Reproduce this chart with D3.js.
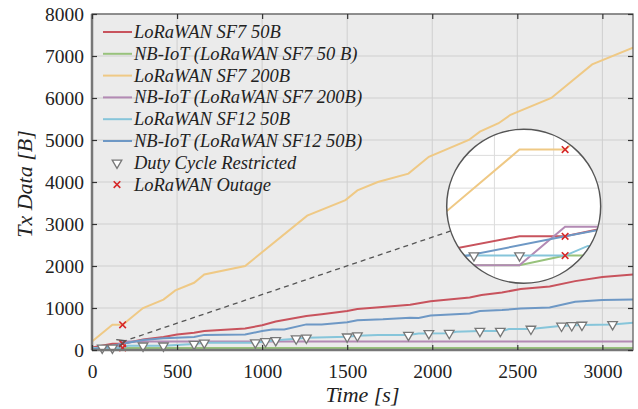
<html>
<head>
<script src="https://cdnjs.cloudflare.com/ajax/libs/d3/7.8.5/d3.min.js"></script>
<style>
  body { margin: 0; background: #fff; }
  text { font-family: "Liberation Serif", "Times New Roman", serif; fill: #222; }
</style>
</head>
<body>
<svg id="chart" width="638" height="409"></svg>
<script>
// series values: [time s, tx data B]
var sf7_50 = [[0,60],[120,150],[180,150],[300,250],[420,310],[500,370],[600,410],[660,450],[900,510],[1000,590],[1080,680],[1260,810],[1350,850],[1500,930],[1560,975],[1690,1020],[1870,1080],[1990,1160],[2220,1250],[2290,1310],[2410,1370],[2520,1450],[2690,1510],[2840,1640],[3000,1740],[3180,1800]];
var nb_sf7_50 = [[0,0],[120,0],[180,50],[3180,50]];
var sf7_200 = [[0,200],[120,600],[180,600],[300,1000],[420,1200],[490,1420],[600,1600],[660,1800],[900,2000],[1265,3200],[1490,3570],[1560,3800],[1680,4000],[1860,4200],[1980,4600],[2215,5000],[2280,5200],[2390,5400],[2460,5600],[2700,6000],[2940,6800],[3180,7200]];
var nb_sf7_200 = [[0,0],[120,0],[180,200],[3180,200]];
var sf12_50 = [[0,50],[180,50],[210,100],[420,100],[600,140],[660,170],[960,175],[1080,230],[1200,270],[1260,290],[1500,315],[1560,340],[1680,355],[1860,355],[1920,395],[2100,400],[2140,435],[2280,450],[2410,450],[2450,500],[2580,500],[2750,570],[2880,595],[3060,610],[3180,650]];
var nb_sf12_50 = [[0,10],[180,150],[300,240],[420,280],[600,310],[660,360],[900,370],[1000,450],[1060,490],[1130,490],[1260,610],[1350,610],[1500,660],[1560,710],[1710,730],[1870,770],[1920,760],[1990,820],[2220,870],[2280,930],[2410,950],[2520,990],[2690,1010],[2840,1150],[3000,1190],[3180,1200]];

var dutyTimes = [60,120,300,420,600,660,960,1020,1080,1200,1260,1500,1560,1860,1980,2100,2280,2400,2580,2760,2820,2880,3060];
var outages = [[180,600],[180,150],[180,50]];

var seriesNames = ['LoRaWAN SF7 50B','NB-IoT (LoRaWAN SF7 50 B)','LoRaWAN SF7 200B','NB-IoT (LoRaWAN SF7 200B)','LoRaWAN SF12 50B','NB-IoT (LoRaWAN SF12 50B)'];
var seriesColors = ['#c8535d','#98c27c','#efc985','#b38ab4','#86c5da','#6e98c5'];
var seriesData = [sf7_50, nb_sf7_50, sf7_200, nb_sf7_200, sf12_50, nb_sf12_50];

var xTicks = [0,500,1000,1500,2000,2500,3000];
var yTicks = [0,1000,2000,3000,4000,5000,6000,7000,8000];
var insetXTicks = [87,165];
var insetYTicks = [0,210,400,570];
var zoomPoint = [195,220];

var svg = d3.select('#chart');
var pl = 92, pr = 633, pt = 14, pb = 350;

var x = d3.scaleLinear().domain([0,3180]).range([pl,pr]);
var y = d3.scaleLinear().domain([0,8000]).range([pb,pt]);

svg.append('rect').attr('x',pl).attr('y',pt).attr('width',pr-pl).attr('height',pb-pt).attr('fill','#ebebeb');

// grid
svg.append('g').selectAll('line').data(xTicks).enter().append('line')
  .attr('x1',d=>x(d)).attr('x2',d=>x(d)).attr('y1',pt).attr('y2',pb)
  .attr('stroke','#cfcfcf').attr('stroke-width',1);
svg.append('g').selectAll('line').data(yTicks).enter().append('line')
  .attr('x1',pl).attr('x2',pr).attr('y1',d=>y(d)).attr('y2',d=>y(d))
  .attr('stroke','#cfcfcf').attr('stroke-width',1);

function drawSeries(g, xs, ys) {
  var line = d3.line().x(d=>xs(d[0])).y(d=>ys(d[1]));
  g.selectAll('path.s').data(seriesData).enter().append('path')
    .attr('class','s')
    .attr('d',line).attr('fill','none')
    .attr('stroke',(d,i)=>seriesColors[i]).attr('stroke-width',2);
}
function valueAt(data, t) {
  for (var i = 1; i < data.length; i++) {
    if (t <= data[i][0]) {
      var a = data[i-1], b = data[i];
      return a[1] + (b[1]-a[1])*(t-a[0])/(b[0]-a[0]);
    }
  }
  return data[data.length-1][1];
}
var tri = d3.symbol().type(d3.symbolTriangle).size(40);
var cross = d3.symbol().type(d3.symbolTimes).size(30);
function drawMarkers(g, xs, ys) {
  g.selectAll('path.t').data(dutyTimes).enter().append('path').attr('class','t')
    .attr('d',tri)
    .attr('transform',d=>'translate('+xs(d)+','+ys(valueAt(sf12_50,d))+') rotate(180)')
    .attr('fill','#fff').attr('stroke','#777').attr('stroke-width',1.3);
  g.selectAll('path.o').data(outages).enter().append('path').attr('class','o')
    .attr('d',cross)
    .attr('transform',d=>'translate('+xs(d[0])+','+ys(d[1])+')')
    .attr('fill','none').attr('stroke','#d62728').attr('stroke-width',1.6);
}

var plot = svg.append('g');
svg.append('clipPath').attr('id','clip').append('rect')
  .attr('x',pl).attr('y',pt).attr('width',pr-pl).attr('height',pb-pt);
plot.attr('clip-path','url(#clip)');
drawSeries(plot, x, y);
drawMarkers(svg.append('g'), x, y);

// spines + ticks
svg.append('rect').attr('x',pl).attr('y',pt).attr('width',pr-pl).attr('height',pb-pt)
  .attr('fill','none').attr('stroke','#555').attr('stroke-width',1.2);
svg.append('line').attr('x1',pl).attr('x2',pl).attr('y1',pt).attr('y2',pb).attr('stroke','#777').attr('stroke-width',2.5);
svg.append('line').attr('x1',pl).attr('x2',pr).attr('y1',pb).attr('y2',pb).attr('stroke','#777').attr('stroke-width',2.5);

svg.append('g').attr('transform','translate(0,'+pb+')')
  .call(d3.axisBottom(x).tickValues(xTicks).tickSize(-5).tickPadding(14).tickFormat(d3.format('d')));
svg.append('g').attr('transform','translate('+pl+',0)')
  .call(d3.axisLeft(y).tickValues(yTicks).tickSize(-5).tickPadding(8).tickFormat(d3.format('d')));
svg.append('g').attr('transform','translate(0,'+pt+')')
  .call(d3.axisTop(x).tickValues(xTicks).tickSize(-5).tickFormat(''));
svg.append('g').attr('transform','translate('+pr+',0)')
  .call(d3.axisRight(y).tickValues(yTicks).tickSize(-5).tickFormat(''));
svg.selectAll('.domain').remove();
svg.selectAll('.tick line').attr('stroke','#333').attr('stroke-width',1.2);
svg.selectAll('.tick text').style('font-size','19.5px').style('font-family','"Liberation Serif", serif').attr('fill','#222');

svg.append('text').attr('x',(pl+pr)/2).attr('y',402).attr('text-anchor','middle')
  .style('font-size','22px').style('font-style','italic').text('Time [s]');
svg.append('text').attr('transform','translate(32,184) rotate(-90)').attr('text-anchor','middle')
  .style('font-size','22px').style('font-style','italic').text('Tx Data [B]');

// legend
var leg = svg.append('g');
var rowY = d3.scaleLinear().domain([0,1]).range([32,53.8]);
var legFont = '18.5px';
seriesNames.forEach(function (n, i) {
  leg.append('line').attr('x1',103).attr('x2',132).attr('y1',rowY(i)).attr('y2',rowY(i))
    .attr('stroke',seriesColors[i]).attr('stroke-width',2);
  leg.append('text').attr('x',134).attr('y',rowY(i)+6).style('font-size',legFont).style('font-style','italic').text(n);
});
leg.append('path').attr('d',tri).attr('transform','translate(117,'+rowY(6)+') rotate(180)')
  .attr('fill','#fff').attr('stroke','#777').attr('stroke-width',1.3);
leg.append('text').attr('x',134).attr('y',rowY(6)+6).style('font-size',legFont).style('font-style','italic').text('Duty Cycle Restricted');
leg.append('path').attr('d',cross).attr('transform','translate(117,'+rowY(7)+')')
  .attr('fill','none').attr('stroke','#d62728').attr('stroke-width',1.6);
leg.append('text').attr('x',134).attr('y',rowY(7)+6).style('font-size',legFont).style('font-style','italic').text('LoRaWAN Outage');

// zoom inset
var cx = 523.7, cy = 206.3, r = 77;
var ix = d3.scaleLinear().domain([0,100]).range([428.3,504.3]);
var iy = d3.scaleLinear().domain([0,600]).range([265.2,149.6]);

var px = x(zoomPoint[0]), py = y(zoomPoint[1]);
var dx = px - cx, dy = py - cy, dl = Math.sqrt(dx*dx+dy*dy);
var ex = cx + r*dx/dl, ey = cy + r*dy/dl;
svg.append('line').attr('x1',ex).attr('y1',ey).attr('x2',px).attr('y2',py)
  .attr('stroke','#555').attr('stroke-width',1.3).attr('stroke-dasharray','5,4');
var ang = Math.atan2(-dy,-dx);
[0.45,-0.45].forEach(function (a) {
  svg.append('line').attr('x1',px).attr('y1',py)
    .attr('x2',px + 9*Math.cos(ang+Math.PI-a)).attr('y2',py + 9*Math.sin(ang+Math.PI-a))
    .attr('stroke','#555').attr('stroke-width',1.3);
});

svg.append('clipPath').attr('id','circ').append('circle').attr('cx',cx).attr('cy',cy).attr('r',r);
var inset = svg.append('g').attr('clip-path','url(#circ)');
inset.append('circle').attr('cx',cx).attr('cy',cy).attr('r',r).attr('fill','#fff');
inset.selectAll('line.gx').data(insetXTicks).enter().append('line').attr('class','gx')
  .attr('x1',d=>ix(d)).attr('x2',d=>ix(d)).attr('y1',cy-r).attr('y2',cy+r).attr('stroke','#dcdcdc');
inset.selectAll('line.gy').data(insetYTicks).enter().append('line').attr('class','gy')
  .attr('x1',cx-r).attr('x2',cx+r).attr('y1',d=>iy(d)).attr('y2',d=>iy(d)).attr('stroke','#dcdcdc');
drawSeries(inset, ix, iy);
drawMarkers(inset, ix, iy);
svg.append('circle').attr('cx',cx).attr('cy',cy).attr('r',r).attr('fill','none').attr('stroke','#555').attr('stroke-width',1.5);
</script>
</body>
</html>
